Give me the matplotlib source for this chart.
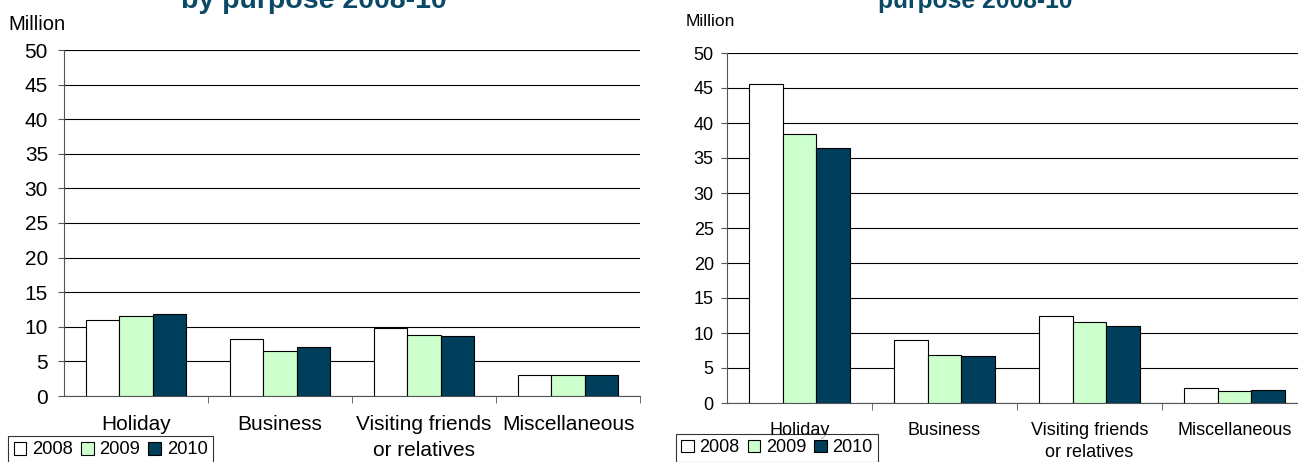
import matplotlib.pyplot as plt
import numpy as np
from matplotlib.patches import Patch

plt.rcParams['font.family'] = ['Liberation Sans', 'DejaVu Sans']

# values
categories = ["Holiday", "Business", "Visiting friends\nor relatives", "Miscellaneous"]
years = ["2008", "2009", "2010"]
left_vals = {
    "2008": [11.0, 8.3, 9.8, 3.1],
    "2009": [11.5, 6.5, 8.8, 3.1],
    "2010": [11.8, 7.1, 8.6, 3.1],
}
right_vals = {
    "2008": [45.6, 9.0, 12.4, 2.2],
    "2009": [38.5, 6.9, 11.6, 1.7],
    "2010": [36.4, 6.7, 11.0, 1.8],
}
colors = {"2008": "#ffffff", "2009": "#ccffcc", "2010": "#003f5c"}
title_color = "#0b4a66"

W, H = 1298, 462
fig = plt.figure(figsize=(W / 100, H / 100), dpi=100)


def px(x0, y0, x1, y1):
    return [x0 / W, 1 - y1 / H, (x1 - x0) / W, (y1 - y0) / H]


def draw(ax, vals, fs, xpad, ypad, lsp):
    x = np.arange(len(categories))
    bw = 0.23
    for i, yr in enumerate(years):
        ax.bar(x + (i - 1) * bw, vals[yr], bw, color=colors[yr],
               edgecolor="black", linewidth=0.8, zorder=3)
    ax.set_xlim(-0.5, len(categories) - 0.5)
    ax.set_ylim(0, 50)
    ax.set_yticks(range(0, 51, 5))
    ax.yaxis.grid(True, color="black", linewidth=0.8, zorder=0)
    ax.set_xticks(x)
    ax.set_xticklabels(categories, fontsize=fs, linespacing=lsp)
    ax.set_xticks(np.arange(0.5, len(categories), 1), minor=True)
    ax.tick_params(axis="x", which="major", length=0, pad=xpad)
    ax.tick_params(axis="x", which="minor", length=5, color="#555555")
    ax.tick_params(axis="y", labelsize=fs, length=4.5, color="#555555", pad=ypad)
    for s in ("top", "right"):
        ax.spines[s].set_visible(False)
    ax.spines["left"].set_color("#555555")
    ax.spines["bottom"].set_color("#555555")


ax1 = fig.add_axes(px(64, 50, 640, 396))
draw(ax1, left_vals, 15, 14, 7, 1.42)
ax2 = fig.add_axes(px(727, 53, 1307, 403))
draw(ax2, right_vals, 13, 13.5, 5, 1.42)

fig.text(8 / W, 1 - 25 / H, "Million", fontsize=14.5, va="center")
fig.text(686 / W, 1 - 22 / H, "Million", fontsize=12.5, va="center")

fig.text(314 / W, 1 - 8 / H, "by purpose 2008-10", fontsize=20.5, fontweight="bold",
         color=title_color, ha="center", va="baseline")
fig.text(975 / W, 1 - 8 / H, "purpose 2008-10", fontsize=17.7, fontweight="bold",
         color=title_color, ha="center", va="baseline")

handles = [Patch(facecolor=colors[yr], edgecolor="black", linewidth=0.8) for yr in years]
for (lx, ly, fs) in [(8, 436, 13.2), (676, 434, 13)]:
    leg = fig.legend(handles, years, loc="upper left", bbox_to_anchor=(lx / W, 1 - ly / H),
                     ncol=3, fontsize=fs, frameon=True, fancybox=False, edgecolor="black",
                     handlelength=0.7, handleheight=0.7, handletextpad=0.3,
                     columnspacing=0.45, borderpad=0.3, borderaxespad=0)
    leg.get_frame().set_linewidth(0.8)

fig.savefig("out.png", dpi=100)
